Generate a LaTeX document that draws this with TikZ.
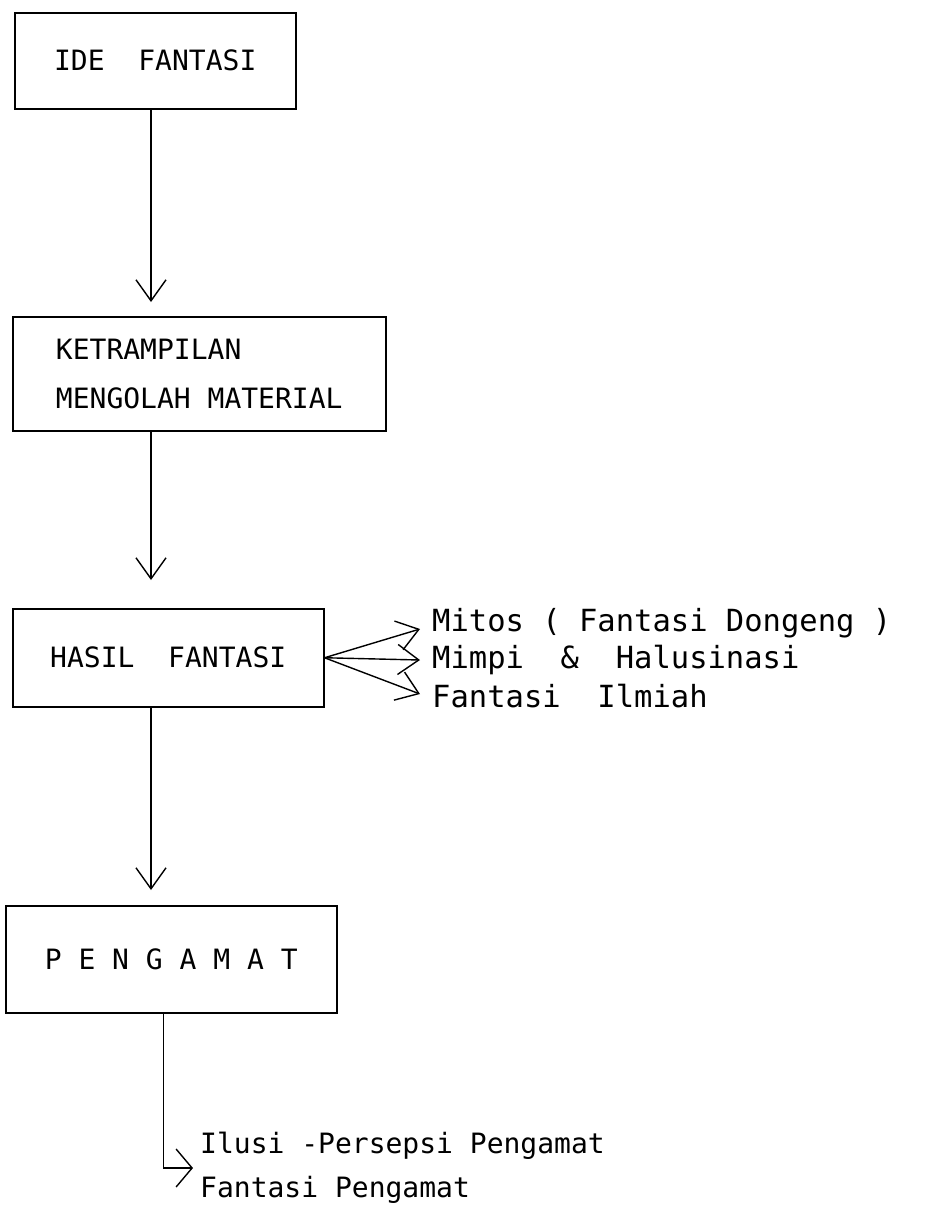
\documentclass[tikz,border=0pt]{standalone}
\usepackage{fontspec}
\usetikzlibrary{arrows.meta,calc}
\newfontfamily\typeface{DejaVu Sans Mono}
\newcommand{\labelfont}{\typeface\fontsize{28}{34}\selectfont}
\newcommand{\sidefont}{\typeface\fontsize{30.5}{36}\selectfont}

\tikzset{
  box/.style={draw, line width=1.5pt, font=\labelfont, inner sep=0pt, anchor=north west},
  flow/.style={line width=1.4pt, -{Straight Barb[length=21pt,width=30pt]}},
  branch/.style={font=\labelfont, anchor=west, inner sep=0pt}
}

\begin{document}
\begin{tikzpicture}[x=1pt,y=1pt]
\useasboundingbox (0,0) rectangle (938,-1213);
%画布大小(938 x 1213),单位为pt
\coordinate (spine) at (151,0);
%竖直箭头所在的x位置(spine)
\node[box, minimum width=281pt, minimum height=96pt] (ide) at (14,-12) {IDE\ \ FANTASI};
\node[box, minimum width=373pt, minimum height=114pt, align=left] (ket) at (12,-316) {KETRAMPILAN\\[15pt]MENGOLAH MATERIAL};
\node[box, minimum width=311pt, minimum height=98pt] (has) at (12,-608) {HASIL\ \ FANTASI};
\node[box, minimum width=331pt, minimum height=107pt] (peng) at (5,-905) {P E N G A M A T};
%四个方框(box),左上角(north west)放在给定位置
\node[branch, font=\sidefont] (mitos) at (432,-623) {Mitos ( Fantasi Dongeng )};
\node[branch, font=\sidefont] (mimpi) at (432,-660) {Mimpi\ \ \&\ \ Halusinasi};
\node[branch, font=\sidefont] (ilmiah) at (432,-696) {Fantasi\ \ Ilmiah};
\node[branch] (ilusi) at (200,-1146) {Ilusi -Persepsi Pengamat};
\node[branch] (fp) at (200,-1190) {Fantasi Pengamat};
%右侧与下方的文字(branch),左端(west)对齐
\draw[flow] (ide.south -| spine) -- ([yshift=14pt]ket.north -| spine);
\draw[flow] (ket.south -| spine) -- ([yshift=28pt]has.north -| spine);
\draw[flow] (has.south -| spine) -- ([yshift=15pt]peng.north -| spine);
%方框之间的竖直箭头(flow),箭头停在下一个方框上方
\foreach \t/\dy in {mitos/-6, mimpi/0, ilmiah/2} {\draw[flow] (has.east) -- ([xshift=-12pt,yshift=\dy pt]\t.west);}
%从(has.east)分出三支箭头
\draw[flow, -{Straight Barb[length=16pt,width=38pt]}] ([xshift=-8pt]peng.south) |- ([xshift=-7pt]$(ilusi.west)!0.5!(fp.west)$);
%先向下再向右(|-)的折线箭头
\end{tikzpicture}
\end{document}
